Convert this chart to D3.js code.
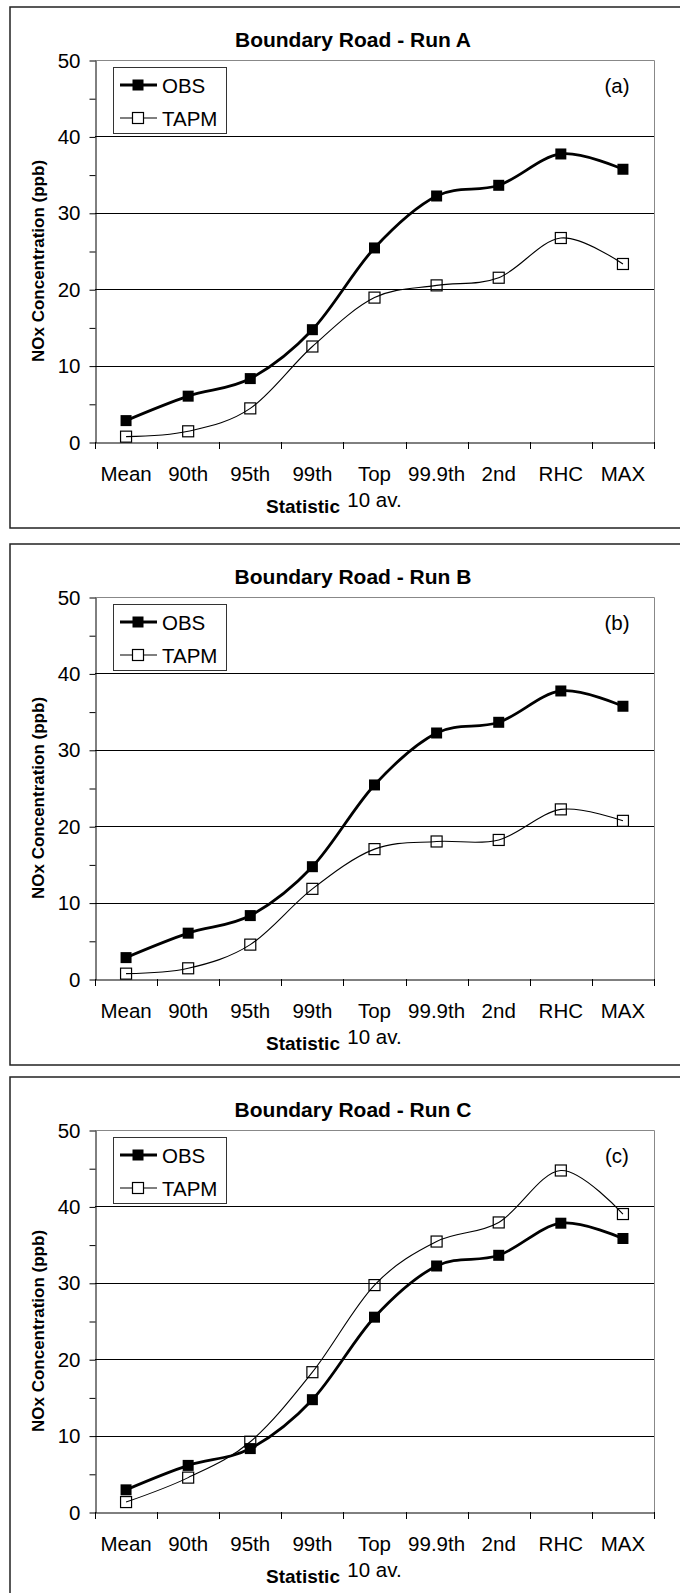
<!DOCTYPE html>
<html>
<head>
<meta charset="utf-8">
<script src="https://cdn.jsdelivr.net/npm/d3@7"></script>
<style>
  body { margin: 0; background: #fff; }
  text { font-family: Arial, "Liberation Sans", sans-serif; fill: #000; }
</style>
</head>
<body>
<div id="canvas"></div>
<script>

var categories = ["Mean", "90th", "95th", "99th", "Top\n10 av.", "99.9th", "2nd", "RHC", "MAX"];
var yTicks = [0, 10, 20, 30, 40, 50];
var yMinor = [5, 15, 25, 35, 45];
var gridValues = [10, 20, 30, 40];

var obsA  = [2.8, 6.0, 8.3, 14.7, 25.4, 32.2, 33.6, 37.7, 35.7];
var tapmA = [0.7, 1.4, 4.4, 12.5, 18.9, 20.5, 21.5, 26.7, 23.3];
var obsB  = [2.8, 6.0, 8.3, 14.7, 25.4, 32.2, 33.6, 37.7, 35.7];
var tapmB = [0.7, 1.4, 4.5, 11.8, 17.0, 18.0, 18.2, 22.2, 20.7];
var obsC  = [2.9, 6.1, 8.3, 14.7, 25.5, 32.2, 33.6, 37.8, 35.8];
var tapmC = [1.3, 4.5, 9.2, 18.3, 29.7, 35.4, 37.9, 44.7, 39.0];

var titles = ["Boundary Road - Run A", "Boundary Road - Run B", "Boundary Road - Run C"];
var letters = ["(a)", "(b)", "(c)"];
var seriesNames = ["OBS", "TAPM"];

var panels = [
  { title: titles[0], letter: letters[0], obs: obsA, tapm: tapmA, top: 0 },
  { title: titles[1], letter: letters[1], obs: obsB, tapm: tapmB, top: 537 },
  { title: titles[2], letter: letters[2], obs: obsC, tapm: tapmC, top: 1070 }
];

var left = 95, right = 654, plotTop = 60, plotBottom = 442;
var markerSize = 11;

var x = d3.scaleBand().domain(categories).range([left, right]).padding(0);
var y = d3.scaleLinear().domain([0, 50]).range([plotBottom, plotTop]);

function cx(d, i) { return x(categories[i]) + x.bandwidth() / 2; }

var line = d3.line()
  .x(function(d, i) { return cx(d, i); })
  .y(function(d) { return y(d); })
  .curve(d3.curveCardinal.tension(0));

var svg = d3.select("#canvas")
  .append("svg")
  .attr("width", 680)
  .attr("height", 1593);

function drawPanel(p) {
  var g = svg.append("g").attr("transform", "translate(0," + p.top + ")");

  // outer frame
  g.append("rect")
    .attr("x", 10).attr("y", 7)
    .attr("width", 680).attr("height", 521)
    .attr("fill", "none").attr("stroke", "#222").attr("stroke-width", 1.5);

  g.append("text")
    .attr("x", 353).attr("y", 47)
    .attr("text-anchor", "middle")
    .style("font-size", "21px").style("font-weight", "bold")
    .text(p.title);

  // gridlines
  g.selectAll("line.grid")
    .data(gridValues)
    .enter().append("line")
      .attr("class", "grid")
      .attr("x1", left).attr("x2", right)
      .attr("y1", function(d) { return Math.round(y(d)) + 0.5; })
      .attr("y2", function(d) { return Math.round(y(d)) + 0.5; })
      .attr("stroke", "#000").attr("stroke-width", 1);

  // plot border top / right
  g.append("path")
    .attr("d", "M" + left + "," + (plotTop + 0.5) + "H" + (right + 0.5) + "V" + plotBottom)
    .attr("fill", "none").attr("stroke", "#888").attr("stroke-width", 1);

  // y axis
  var yAxis = g.append("g")
    .attr("transform", "translate(" + (left + 0.5) + ",0.5)")
    .call(d3.axisLeft(y).tickValues(yTicks).tickSize(6).tickSizeOuter(0));
  yAxis.selectAll("text")
    .style("font-size", "20.5px").style("font-family", "Arial, 'Liberation Sans', sans-serif")
    .attr("x", -15);
  g.append("g")
    .attr("transform", "translate(" + (left + 0.5) + ",0.5)")
    .call(d3.axisLeft(y).tickValues(yMinor).tickSize(6).tickFormat("").tickSizeOuter(0))
    .select(".domain").remove();

  // x axis with ticks on the category boundaries
  g.append("g")
    .attr("transform", "translate(0," + (plotBottom + 0.5) + ")")
    .call(d3.axisBottom(x).tickSize(0).tickFormat("").tickSizeOuter(0));
  var edges = categories.map(function(c) { return x(c); }).concat([x.range()[1]]);
  g.selectAll("line.xtick")
    .data(edges)
    .enter().append("line")
      .attr("class", "xtick")
      .attr("x1", function(d) { return Math.round(d) + 0.5; })
      .attr("x2", function(d) { return Math.round(d) + 0.5; })
      .attr("y1", plotBottom).attr("y2", plotBottom + 7)
      .attr("stroke", "#000");

  // category labels
  var labels = g.selectAll("text.cat")
    .data(categories)
    .enter().append("text")
      .attr("class", "cat")
      .attr("text-anchor", "middle")
      .style("font-size", "20.5px");
  labels.selectAll("tspan")
    .data(function(d, i) {
      return d.split("\n").map(function(s) { return { s: s, i: i }; });
    })
    .enter().append("tspan")
      .attr("x", function(d) { return x(categories[d.i]) + x.bandwidth() / 2; })
      .attr("y", function(d, j) { return 481 + j * 26; })
      .text(function(d) { return d.s; });

  g.append("text")
    .attr("x", 303).attr("y", 513)
    .attr("text-anchor", "middle")
    .style("font-size", "19px").style("font-weight", "bold")
    .text("Statistic");

  g.append("text")
    .attr("transform", "translate(44,261) rotate(-90)")
    .attr("text-anchor", "middle")
    .style("font-size", "17px").style("font-weight", "bold")
    .text("NOx Concentration (ppb)");

  // series
  g.append("path")
    .attr("d", line(p.tapm))
    .attr("fill", "none").attr("stroke", "#000").attr("stroke-width", 1.1);
  g.append("path")
    .attr("d", line(p.obs))
    .attr("fill", "none").attr("stroke", "#000").attr("stroke-width", 2.8);

  g.selectAll("rect.tapm")
    .data(p.tapm)
    .enter().append("rect")
      .attr("class", "tapm")
      .attr("x", function(d, i) { return cx(d, i) - markerSize / 2; })
      .attr("y", function(d) { return y(d) - markerSize / 2; })
      .attr("width", markerSize).attr("height", markerSize)
      .attr("fill", "none").attr("stroke", "#000").attr("stroke-width", 1.2);
  g.selectAll("rect.obs")
    .data(p.obs)
    .enter().append("rect")
      .attr("class", "obs")
      .attr("x", function(d, i) { return cx(d, i) - markerSize / 2; })
      .attr("y", function(d) { return y(d) - markerSize / 2; })
      .attr("width", markerSize).attr("height", markerSize)
      .attr("fill", "#000");

  // legend
  var lg = g.append("g");
  lg.append("rect")
    .attr("x", 113.5).attr("y", 67.5)
    .attr("width", 113).attr("height", 66)
    .attr("fill", "#fff").attr("stroke", "#333").attr("stroke-width", 1);
  seriesNames.forEach(function(name, k) {
    var ly = 85 + k * 33;
    lg.append("line")
      .attr("x1", 120).attr("x2", 157)
      .attr("y1", ly).attr("y2", ly)
      .attr("stroke", "#000").attr("stroke-width", k === 0 ? 2.8 : 1.1);
    lg.append("rect")
      .attr("x", 138 - markerSize / 2).attr("y", ly - markerSize / 2)
      .attr("width", markerSize).attr("height", markerSize)
      .attr("fill", k === 0 ? "#000" : "#fff")
      .attr("stroke", "#000").attr("stroke-width", k === 0 ? 0 : 1.2);
    lg.append("text")
      .attr("x", 162).attr("y", ly + 7.5)
      .style("font-size", "20.5px")
      .text(name);
  });

  g.append("text")
    .attr("x", 617).attr("y", 93)
    .attr("text-anchor", "middle")
    .style("font-size", "20.5px")
    .text(p.letter);
}

panels.forEach(drawPanel);

</script>
</body>
</html>
